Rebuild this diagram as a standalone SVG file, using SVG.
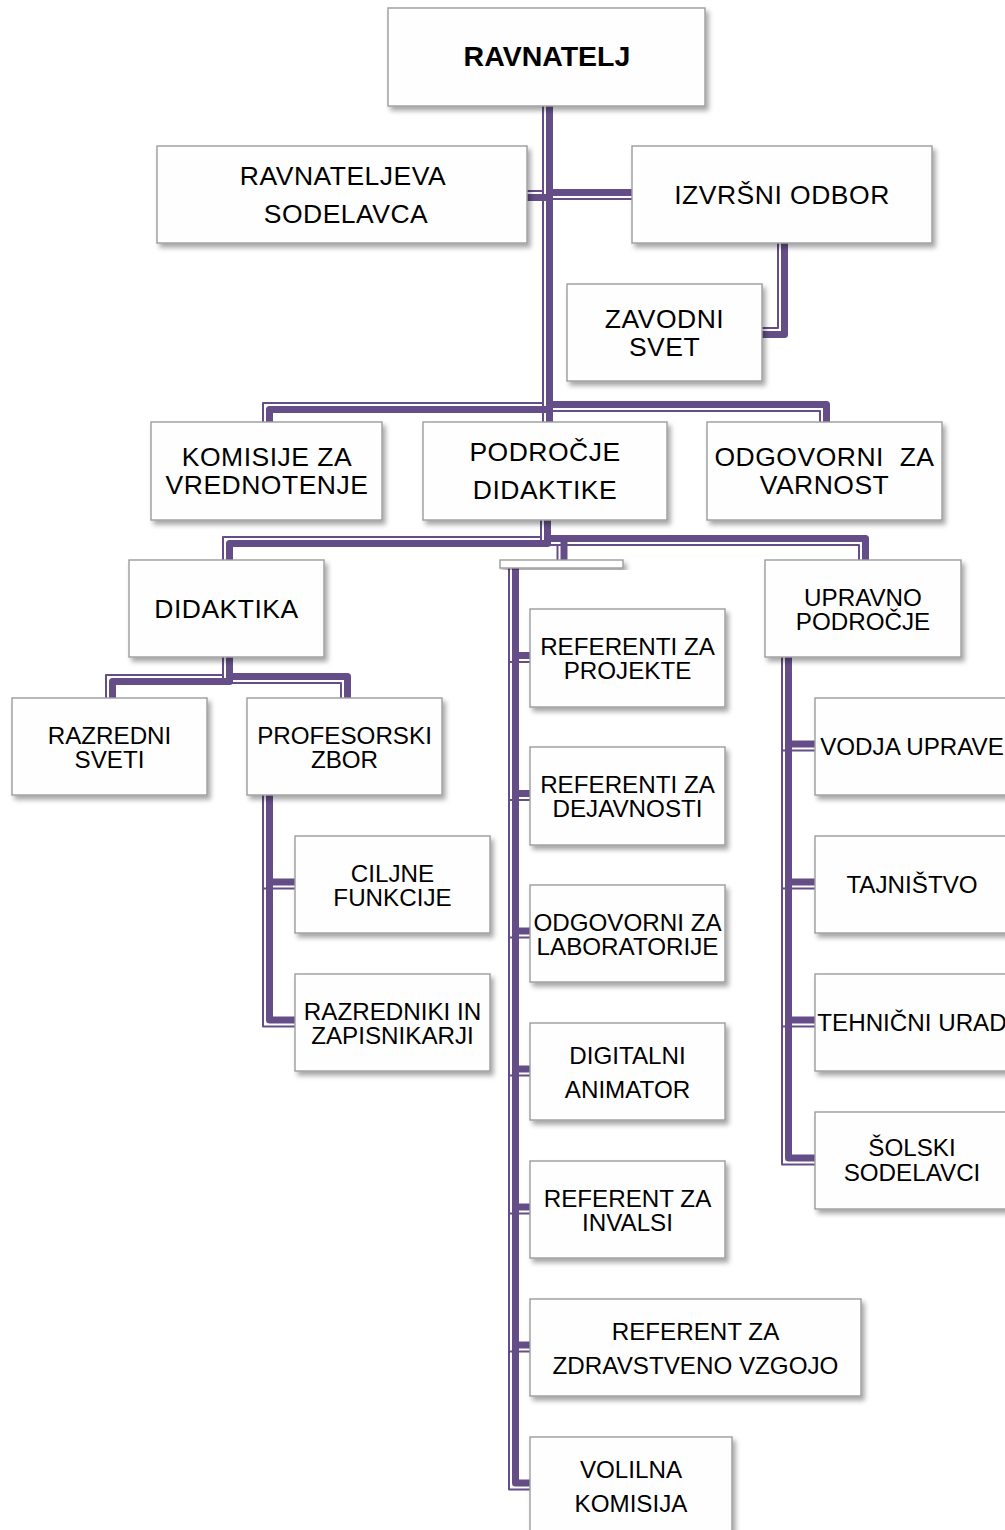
<svg xmlns="http://www.w3.org/2000/svg" width="1005" height="1530" viewBox="0 0 1005 1530">
<defs>
<filter id="sh" x="-10%" y="-10%" width="125%" height="135%">
<feDropShadow dx="3" dy="4" stdDeviation="2.5" flood-color="#000" flood-opacity="0.35"/>
</filter>
</defs>
<style>
.k{fill:none;stroke:#654E88;stroke-width:7;stroke-linejoin:round}
.t{fill:none;stroke:#654E88;stroke-width:2;stroke-linejoin:round}
.b{fill:#fefefe;stroke:#9c9c9c;stroke-width:1.4;filter:url(#sh)}
text{font-family:"Liberation Sans",Arial,sans-serif;font-size:24.2px;fill:#000;text-anchor:middle}
.L{font-size:26.5px;letter-spacing:0.5px}
.B{font-size:28.5px;font-weight:bold}
</style>
<rect width="1005" height="1530" fill="#fff"/>
<g id="connectors">
<path class="k" d="M549.5,106V197.5H527"/><path class="t" d="M543,106V191H527"/>
<path class="k" d="M549.5,106V192.5H632"/><path class="t" d="M543,106V199H632"/>
<path class="k" d="M549.5,106V409.5H269.5V422"/><path class="t" d="M543,106V403H263V422"/>
<path class="k" d="M549.5,106V422"/><path class="t" d="M543,106V422"/>
<path class="k" d="M549.5,106V404.5H826.5V422"/><path class="t" d="M543,106V411H820V422"/>
<path class="k" d="M784.5,243V334.5H762"/><path class="t" d="M778,243V328H762"/>
<path class="k" d="M547.5,520V543.5H229.5V560"/><path class="t" d="M541,520V537H223V560"/>
<path class="k" d="M547.5,520V538.5H564V560"/><path class="t" d="M541,520V545H557.5V560"/>
<path class="k" d="M547.5,520V538.5H865.5V560"/><path class="t" d="M541,520V545H859V560"/>
<path class="k" d="M229.5,657V681.5H112.5V698"/><path class="t" d="M223,657V675H106V698"/>
<path class="k" d="M229.5,657V676.5H347.5V698"/><path class="t" d="M223,657V683H341V698"/>
<path class="k" d="M269.5,795V882H295"/><path class="t" d="M263,795V888.5H295"/>
<path class="k" d="M269.5,795V1020H295"/><path class="t" d="M263,795V1026.5H295"/>
<path class="k" d="M515.5,568V655.5H530"/><path class="t" d="M509,568V662H530"/>
<path class="k" d="M515.5,568V793.5H530"/><path class="t" d="M509,568V800H530"/>
<path class="k" d="M515.5,568V931H530"/><path class="t" d="M509,568V937.5H530"/>
<path class="k" d="M515.5,568V1069H530"/><path class="t" d="M509,568V1075.5H530"/>
<path class="k" d="M515.5,568V1207H530"/><path class="t" d="M509,568V1213.5H530"/>
<path class="k" d="M515.5,568V1345H530"/><path class="t" d="M509,568V1351.5H530"/>
<path class="k" d="M515.5,568V1483H530"/><path class="t" d="M509,568V1489.5H530"/>
<path class="k" d="M788.5,657V744H815"/><path class="t" d="M782,657V750.5H815"/>
<path class="k" d="M788.5,657V882H815"/><path class="t" d="M782,657V888.5H815"/>
<path class="k" d="M788.5,657V1020H815"/><path class="t" d="M782,657V1026.5H815"/>
<path class="k" d="M788.5,657V1158H815"/><path class="t" d="M782,657V1164.5H815"/>
</g>
<g id="ravnatelj"><rect class="b" x="388" y="8" width="317" height="98"/><text class="B" x="547" y="66">RAVNATELJ</text></g>
<g id="ravnateljeva-sodelavca"><rect class="b" x="157" y="146" width="370" height="97"/><text class="L" x="343" y="185">RAVNATELJEVA</text><text class="L" x="346" y="223">SODELAVCA</text></g>
<g id="izvrsni-odbor"><rect class="b" x="632" y="146" width="300" height="97"/><text class="L" x="782" y="204">IZVRŠNI ODBOR</text></g>
<g id="zavodni-svet"><rect class="b" x="567" y="284" width="195" height="97"/><text class="L" x="664.5" y="328">ZAVODNI</text><text class="L" x="664.5" y="356">SVET</text></g>
<g id="komisije"><rect class="b" x="151" y="422" width="231" height="98"/><text class="L" x="267" y="466">KOMISIJE ZA</text><text class="L" x="267" y="494">VREDNOTENJE</text></g>
<g id="podrocje-didaktike"><rect class="b" x="423" y="422" width="244" height="98"/><text class="L" x="545" y="461">PODROČJE</text><text class="L" x="545" y="499">DIDAKTIKE</text></g>
<g id="odgovorni-varnost"><rect class="b" x="707" y="422" width="235" height="98"/><text class="L" x="824.5" y="466" xml:space="preserve">ODGOVORNI  ZA</text><text class="L" x="824.5" y="494">VARNOST</text></g>
<g id="didaktika"><rect class="b" x="129" y="560" width="195" height="97"/><text class="L" x="226.5" y="618">DIDAKTIKA</text></g>
<g id="bar"><rect class="b" x="500" y="560" width="123" height="8"/></g>
<g id="upravno-podrocje"><rect class="b" x="765" y="560" width="196" height="97"/><text x="863" y="605.5">UPRAVNO</text><text x="863" y="629.5">PODROČJE</text></g>
<g id="razredni-sveti"><rect class="b" x="12" y="698" width="195" height="97"/><text x="109.5" y="743.5">RAZREDNI</text><text x="109.5" y="767.5">SVETI</text></g>
<g id="profesorski-zbor"><rect class="b" x="247" y="698" width="195" height="97"/><text x="344.5" y="743.5">PROFESORSKI</text><text x="344.5" y="767.5">ZBOR</text></g>
<g id="ciljne-funkcije"><rect class="b" x="295" y="836" width="195" height="97"/><text x="392.5" y="881.5">CILJNE</text><text x="392.5" y="905.5">FUNKCIJE</text></g>
<g id="razredniki"><rect class="b" x="295" y="974" width="195" height="97"/><text x="392.5" y="1019.5">RAZREDNIKI IN</text><text x="392.5" y="1043.5">ZAPISNIKARJI</text></g>
<g id="referenti-projekte"><rect class="b" x="530" y="609" width="195" height="98"/><text x="627.5" y="654.5">REFERENTI ZA</text><text x="627.5" y="679">PROJEKTE</text></g>
<g id="referenti-dejavnosti"><rect class="b" x="530" y="747" width="195" height="98"/><text x="627.5" y="792.5">REFERENTI ZA</text><text x="627.5" y="817">DEJAVNOSTI</text></g>
<g id="odgovorni-laboratorije"><rect class="b" x="530" y="885" width="195" height="97"/><text x="627.5" y="930.5">ODGOVORNI ZA</text><text x="627.5" y="954.5">LABORATORIJE</text></g>
<g id="digitalni-animator"><rect class="b" x="530" y="1023" width="195" height="97"/><text x="627.5" y="1063.5">DIGITALNI</text><text x="627.5" y="1097.5">ANIMATOR</text></g>
<g id="referent-invalsi"><rect class="b" x="530" y="1161" width="195" height="97"/><text x="627.5" y="1206.5">REFERENT ZA</text><text x="627.5" y="1230.5">INVALSI</text></g>
<g id="referent-zdravstveno"><rect class="b" x="530" y="1299" width="331" height="97"/><text x="695.5" y="1339.5">REFERENT ZA</text><text x="695.5" y="1373.5">ZDRAVSTVENO VZGOJO</text></g>
<g id="volilna-komisija"><rect class="b" x="530" y="1437" width="202" height="97"/><text x="631" y="1477.5">VOLILNA</text><text x="631" y="1511.5">KOMISIJA</text></g>
<g id="vodja-uprave"><rect class="b" x="815" y="698" width="195" height="97"/><text x="912" y="754.5">VODJA UPRAVE</text></g>
<g id="tajnistvo"><rect class="b" x="815" y="836" width="195" height="97"/><text x="912" y="892.5">TAJNIŠTVO</text></g>
<g id="tehnicni-urad"><rect class="b" x="815" y="974" width="195" height="97"/><text x="912" y="1030.5">TEHNIČNI URAD</text></g>
<g id="solski-sodelavci"><rect class="b" x="815" y="1112" width="195" height="97"/><text x="912" y="1155.5">ŠOLSKI</text><text x="912" y="1180.5">SODELAVCI</text></g>
</svg>
